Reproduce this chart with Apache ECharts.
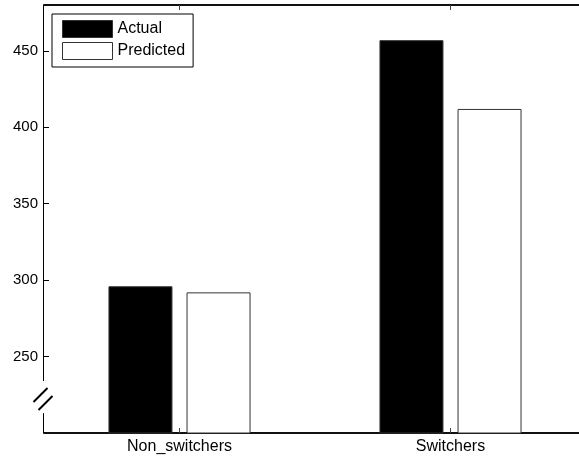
<!DOCTYPE html>
<html><head><meta charset="utf-8">
<script src="https://cdn.jsdelivr.net/npm/echarts@6/dist/echarts.min.js"></script>
<style>html,body{margin:0;padding:0;background:#fff}#c{width:579px;height:457px}</style>
</head><body><div id="c"></div>
<script>
const categories = ['Non_switchers', 'Switchers'];
const actual = [296, 457];
const predicted = [292, 412];
const seriesNames = ['Actual', 'Predicted'];
const yTicks = [250, 300, 350, 400, 450];
const yMin = 200, yMax = 480, yStep = 50;
const breakLow = 213, breakHigh = 234;

const GRID_LEFT = 44;
const FONT = 'Liberation Sans, Arial, sans-serif';
const chart = echarts.init(document.getElementById('c'), null, {renderer: 'canvas'});

const option = {
  animation: false,
  backgroundColor: '#fff',
  textStyle: {fontFamily: FONT},
  grid: {left: GRID_LEFT, width: 542, top: 5, bottom: 24, containLabel: false, outerBoundsMode: 'none'},
  legend: {
    orient: 'vertical',
    left: 52, top: 14,
    padding: [6, 8, 7, 10],
    itemWidth: 50, itemHeight: 17, itemGap: 4, itemTextGap: 5,
    borderColor: '#000', borderWidth: 1,
    textStyle: {fontFamily: FONT, fontSize: 16, color: '#000'},
    data: [
      {name: seriesNames[0], icon: 'rect', itemStyle: {color: '#000', borderColor: '#333', borderWidth: 1}},
      {name: seriesNames[1], icon: 'rect', itemStyle: {color: '#fff', borderColor: '#333', borderWidth: 1}}
    ]
  },
  xAxis: [
    {
      type: 'category', data: categories, position: 'bottom',
      axisLine: {show: true, lineStyle: {color: '#111', width: 2}},
      axisTick: {show: true, inside: true, length: 5, alignWithLabel: true, lineStyle: {color: '#444', width: 1}},
      axisLabel: {fontFamily: FONT, fontSize: 16, color: '#000', margin: 6},
      splitLine: {show: false}
    },
    {
      type: 'category', data: categories, position: 'top',
      axisLine: {show: true, lineStyle: {color: '#111', width: 2}},
      axisTick: {show: true, inside: true, length: 5, alignWithLabel: true, lineStyle: {color: '#444', width: 1}},
      axisLabel: {show: false},
      splitLine: {show: false}
    }
  ],
  yAxis: {
    type: 'value', min: yMin, max: yMax, interval: yStep,
    axisLine: {show: false},
    axisTick: {show: true, inside: true, length: 5, lineStyle: {color: '#000', width: 1}},
    axisLabel: {fontFamily: FONT, fontSize: 15, color: '#000', margin: 6,
      showMinLabel: false, showMaxLabel: false,
      formatter: function (v) { return yTicks.indexOf(v) >= 0 ? String(v) : ''; }},
    splitLine: {show: false}
  },
  series: [
    {
      name: seriesNames[0], type: 'bar', data: actual,
      barWidth: 64, barGap: '22%',
      itemStyle: {color: '#000', borderColor: '#333', borderWidth: 1}
    },
    {
      name: seriesNames[1], type: 'bar', data: predicted,
      barWidth: 64, barGap: '22%',
      itemStyle: {color: '#fff', borderColor: '#333', borderWidth: 1}
    }
  ]
};
chart.setOption(option);

// left axis line with a break and slash marks
const yTop = chart.convertToPixel({yAxisIndex: 0}, yMax);
const yBot = chart.convertToPixel({yAxisIndex: 0}, yMin);
const yB1 = chart.convertToPixel({yAxisIndex: 0}, breakHigh);
const yB2 = chart.convertToPixel({yAxisIndex: 0}, breakLow);
const mid = (yB1 + yB2) / 2;
const x = GRID_LEFT - 0.5;
const ls = {stroke: '#000', lineWidth: 1};
const ss = {stroke: '#000', lineWidth: 2};
chart.setOption({
  graphic: [
    {type: 'line', shape: {x1: x, y1: yTop, x2: x, y2: yB1}, style: ls, z: 100},
    {type: 'line', shape: {x1: x, y1: yB2, x2: x, y2: yBot}, style: ls, z: 100},
    {type: 'line', shape: {x1: x - 10, y1: mid + 5, x2: x + 4, y2: mid - 9}, style: ss, z: 100},
    {type: 'line', shape: {x1: x - 5, y1: mid + 13, x2: x + 9, y2: mid - 1}, style: ss, z: 100}
  ]
});
</script>
</body></html>
